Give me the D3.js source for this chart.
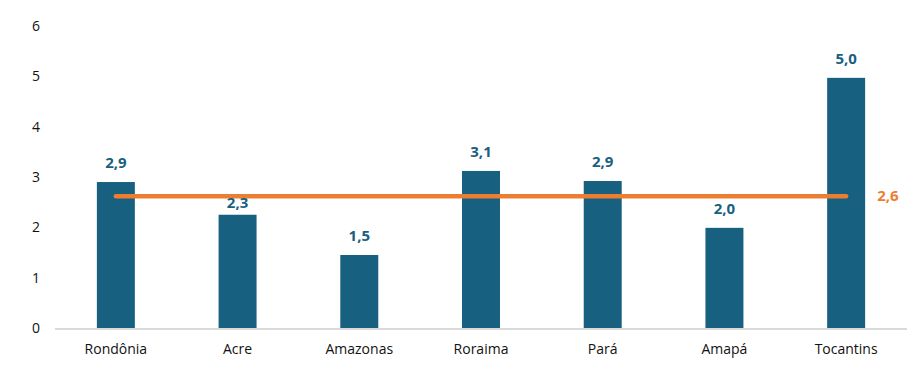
<!DOCTYPE html>
<html>
<head>
<meta charset="utf-8">
<script src="https://cdn.jsdelivr.net/npm/d3@7"></script>
<style>
  body { margin: 0; background: #fff; }
  text { font-family: "Open Sans", "Liberation Sans", Arial, sans-serif; }
</style>
</head>
<body>
<div id="chart"></div>
<script>
// Data
const states = ["Rondônia", "Acre", "Amazonas", "Roraima", "Pará", "Amapá", "Tocantins"];
const values = [2.9, 2.25, 1.45, 3.12, 2.92, 1.99, 4.97];
const labels = ["2,9", "2,3", "1,5", "3,1", "2,9", "2,0", "5,0"];
const average = 2.62;
const averageLabel = "2,6";
const yTicks = [0, 1, 2, 3, 4, 5, 6];

const width = 921, height = 386;
const margin = { top: 26, right: 14, bottom: 58, left: 55 };

const svg = d3.select("#chart").append("svg")
    .attr("width", width)
    .attr("height", height);

const x = d3.scaleBand()
    .domain(states)
    .range([margin.left, width - margin.right])
    .paddingInner(0.688)
    .paddingOuter(0.344);

const y = d3.scaleLinear()
    .domain([0, 6])
    .range([height - margin.bottom, margin.top]);

// Y tick labels (no axis line)
svg.append("g").selectAll("text")
    .data(yTicks)
    .enter().append("text")
    .attr("x", 40)
    .attr("y", d => y(d))
    .attr("dy", "0.35em")
    .attr("text-anchor", "end")
    .style("font-size", "14px")
    .style("fill", "#111")
    .text(d => d);

// Bars
svg.append("g").selectAll("rect")
    .data(values)
    .enter().append("rect")
    .attr("x", (d, i) => x(states[i]))
    .attr("y", d => y(d))
    .attr("width", x.bandwidth())
    .attr("height", d => y(0) - y(d))
    .style("fill", "#17607f");

// Baseline
svg.append("line")
    .attr("x1", margin.left)
    .attr("x2", width - margin.right)
    .attr("y1", y(0) + 1)
    .attr("y2", y(0) + 1)
    .style("stroke", "#d9d9d9")
    .style("stroke-width", 2);

// Category labels
svg.append("g").selectAll("text")
    .data(states)
    .enter().append("text")
    .attr("x", d => x(d) + x.bandwidth() / 2)
    .attr("y", y(0) + 26)
    .attr("text-anchor", "middle")
    .style("font-size", "14px")
    .style("fill", "#111")
    .text(d => d);

// Average line
const lineY = y(average);
svg.append("line")
    .attr("x1", x(states[0]) + x.bandwidth() / 2)
    .attr("x2", x(states[states.length - 1]) + x.bandwidth() / 2)
    .attr("y1", lineY)
    .attr("y2", lineY)
    .style("stroke", "#ed7d31")
    .style("stroke-width", 4.5)
    .style("stroke-linecap", "round");

svg.append("text")
    .attr("x", x(states[states.length - 1]) + x.bandwidth() / 2 + 31)
    .attr("y", lineY)
    .attr("dy", "0.35em")
    .style("font-size", "15px")
    .style("font-weight", "bold")
    .style("fill", "#ed7d31")
    .text(averageLabel);

// Value labels; nudge below the average line when they would collide
svg.append("g").selectAll("text")
    .data(values)
    .enter().append("text")
    .attr("x", (d, i) => x(states[i]) + x.bandwidth() / 2)
    .attr("y", d => {
        const base = y(d) - 14;
        if (base > lineY - 3 && base - 11 < lineY + 3) return lineY + 12;
        return base;
    })
    .attr("text-anchor", "middle")
    .style("font-size", "15px")
    .style("font-weight", "bold")
    .style("fill", "#17607f")
    .text((d, i) => labels[i]);
</script>
</body>
</html>
